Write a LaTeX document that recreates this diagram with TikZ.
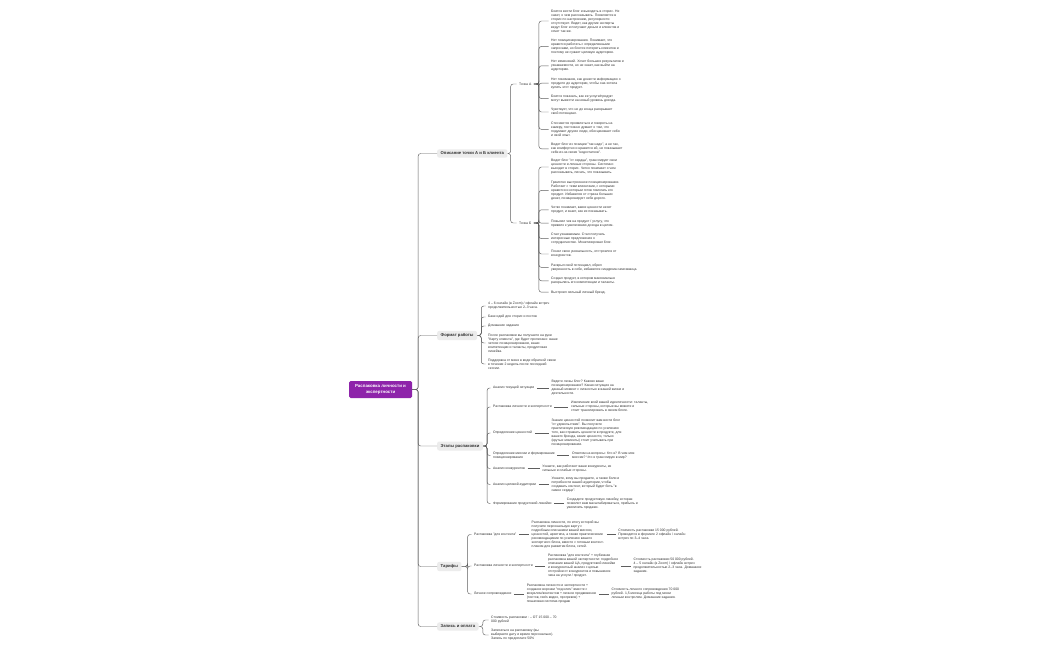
\documentclass[tikz,border=0pt]{standalone}
\usepackage{fontspec}
\setmainfont{Liberation Sans}
\definecolor{txt}{HTML}{333333}
\definecolor{lc}{HTML}{5E5E5E}
\definecolor{bfill}{HTML}{ECECEC}
\definecolor{rootc}{HTML}{8E24AA}
\newcommand\smtxt{\fontsize{3.4}{4}\selectfont}
\newcommand\elb[3]{\draw[conn] (#1.east) -- ++(#3,0) |- (#2.west);}
\newcommand\hl[2]{\draw[conn] (#1.east) -- (#2.west);}
\begin{document}
\begin{tikzpicture}[x=1pt,y=-1pt,
 leaf/.style={anchor=west, font=\smtxt, text=txt, align=left, inner xsep=2.5pt, inner ysep=0.5pt},
 branch/.style={anchor=west, font=\fontsize{4.2}{5}\selectfont\bfseries, text=txt, fill=bfill, rounded corners=2pt, inner xsep=3.5pt, inner ysep=2.6pt},
 rootnode/.style={fill=rootc, text=white, rounded corners=1.5pt, font=\fontsize{4.4}{6}\selectfont\bfseries, align=center, minimum width=63pt, minimum height=17pt, inner sep=1pt},
 conn/.style={draw=lc, line width=0.45pt, rounded corners=2.5pt}]
\fill[white] (0,0) rectangle (1050,650);
\useasboundingbox (0,0) rectangle (1050,650);

% root and main branches
\node[rootnode] (root) at (380.5,389.5) {Распаковка личности и\\экспертности};
\node[branch] (bDesc) at (437,153.5) {Описание точки А и Б клиента};
\node[branch] (bFmt) at (437,335.5) {Формат работы};
\node[branch] (bSt) at (437,446) {Этапы распаковки};
\node[branch] (bTar) at (437,566.5) {Тарифы};
\node[branch] (bRec) at (437,626.5) {Запись и оплата};
\foreach \b in {bDesc,bFmt,bSt,bTar,bRec}{\elb{root}{\b}{6}}

% point A / B
\node[leaf] (pA) at (516.5,84) {Точка А};
\node[leaf] (pB) at (516.5,223) {Точка Б};
\elb{bDesc}{pA}{3}
\elb{bDesc}{pB}{3}

\node[leaf] (a1) at (548.5,21) {Боится вести блог и выходить в сторис. Не\\знает, о чем рассказывать. Появляется в\\сторис по настроению, регулярности\\отсутствует. Видит, как другие эксперты\\ведут блог и получают деньги и клиентов и\\хочет так же.};
\node[leaf] (a2) at (548.5,46.4) {Нет позиционирования. Понимает, что\\нравится работать с определенными\\запросами, но боится потерять клиентов и\\поэтому не сужает целевую аудиторию.};
\node[leaf] (a3) at (548.5,65.8) {Нет изменений. Хочет больших результатов и\\узнаваемости, но не знает, как выйти на\\аудиторию.};
\node[leaf] (a4) at (548.5,83.2) {Нет понимания, как донести информацию о\\продукте до аудитории, чтобы она хотела\\купить этот продукт.};
\node[leaf] (a5) at (548.5,98.6) {Боится показать, как ее услуги/продукт\\могут вывести на новый уровень дохода.};
\node[leaf] (a6) at (548.5,112) {Чувствует, что не до конца раскрывает\\свой потенциал.};
\node[leaf] (a7) at (548.5,129.4) {Стесняется проявляться и говорить на\\камеру, постоянно думает о том, что\\подумают другие люди, обесценивает себя\\и свой опыт.};
\node[leaf] (a8) at (548.5,148.8) {Ведет блог из позиции "так надо", а не так,\\как комфортно и нравится ей, не показывает\\себя из-за своих "недостатков".};
\foreach \n in {a1,a2,a3,a4,a5,a6,a7,a8}{\elb{pA}{\n}{5}}

\node[leaf] (b1) at (548.5,167) {Ведет блог "от сердца", транслирует свои\\ценности и личные стороны. Системно\\выходит в сторис. Четко понимает о чем\\рассказывать, писать, что показывать.};
\node[leaf] (b2) at (548.5,190.4) {Грамотно выстроенное позиционирование.\\Работает с теми клиентами, с которыми\\нравится и которым готов помогать его\\продукт. Избавился от страха больших\\денег, позиционирует себя дорого.};
\node[leaf] (b3) at (548.5,209.8) {Четко понимает, какие ценности несет\\продукт, и знает, как их показывать.};
\node[leaf] (b4) at (548.5,223.2) {Повысил чек на продукт / услугу, что\\привело к увеличению дохода в целом.};
\node[leaf] (b5) at (548.5,238.6) {Стал узнаваемым. Стал получать\\интересные предложения о\\сотрудничестве. Монетизировал блог.};
\node[leaf] (b6) at (548.5,254) {Понял свою уникальность, отстроился от\\конкурентов.};
\node[leaf] (b7) at (548.5,267.4) {Раскрыл свой потенциал, обрел\\уверенность в себе, избавился синдрома самозванца.};
\node[leaf] (b8) at (548.5,280.8) {Создал продукт, в котором максимально\\раскрылись его компетенции и таланты.};
\node[leaf] (b9) at (548.5,292.2) {Выстроил сильный личный бренд.};
\foreach \n in {b1,b2,b3,b4,b5,b6,b7,b8,b9}{\elb{pB}{\n}{5}}

% format
\node[leaf] (f1) at (485.5,306) {4 – 6 онлайн (в Zoom) / офлайн встреч\\продолжительностью 2–3 часа.};
\node[leaf] (f2) at (485.5,317) {Банк идей для сторис и постов};
\node[leaf] (f3) at (485.5,326) {Домашние задания};
\node[leaf] (f4) at (485.5,343) {После распаковки вы получаете на руки\\"Карту клиента", где будет прописано: ваше\\четкое позиционирование, ваши\\компетенции и таланты, продуктовая\\линейка.};
\node[leaf] (f5) at (485.5,364) {Поддержка от меня в виде обратной связи\\в течение 2 недель после последней\\сессии.};
\foreach \n in {f1,f2,f3,f4,f5}{\elb{bFmt}{\n}{4}}

% stages
\node[leaf] (e1) at (490.5,388) {Анализ текущей ситуации};
\node[leaf] (e2) at (490.5,407) {Распаковка личности и экспертности};
\node[leaf] (e3) at (490.5,433) {Определение ценностей};
\node[leaf] (e4) at (490.5,455.5) {Определение миссии и формирование\\позиционирования};
\node[leaf] (e5) at (490.5,468.5) {Анализ конкурентов};
\node[leaf] (e6) at (490.5,484.5) {Анализ целевой аудитории};
\node[leaf] (e7) at (490.5,503.5) {Формирование продуктовой линейки};
\foreach \n in {e1,e2,e3,e4,e5,e6,e7}{\elb{bSt}{\n}{4}}

\node[leaf] (e1b) at ([xshift=12]e1.east) {Ведете ли вы блог? Каково ваше\\позиционирование? Какая ситуация на\\данный момент с личностью в вашей жизни и\\деятельности.};
\node[leaf] (e2b) at ([xshift=14]e2.east) {Извлечение всей вашей идентичности: таланты,\\сильные стороны, которые вы можете и\\стоит транслировать в своем блоге.};
\node[leaf] (e3b) at ([xshift=14]e3.east) {Знание ценностей позволит вам вести блог\\"от удовольствия". Вы получите\\практическую рекомендацию по усилению\\того, как отражать ценности в продукте, для\\вашего бренда, какие ценности, только\\(крутые моменты) стоит учитывать при\\позиционировании.};
\node[leaf] (e4b) at ([xshift=12]e4.east) {Ответим на вопросы: Кто я? В чем моя\\миссия? Что я транслирую в мир?};
\node[leaf] (e5b) at ([xshift=12]e5.east) {Узнаете, как работают ваши конкуренты, их\\сильные и слабые стороны.};
\node[leaf] (e6b) at ([xshift=10]e6.east) {Узнаете, кому вы продаете, а также боли и\\потребности вашей аудитории, чтобы\\создавать контент, который будет бить "в\\самое сердце".};
\node[leaf] (e7b) at ([xshift=10]e7.east) {Создадите продуктовую линейку, которая\\позволит вам масштабироваться, прибыль и\\увеличить продажи.};
\foreach \n in {e1,e2,e3,e4,e5,e6,e7}{\hl{\n}{\n b}}

% tariffs
\node[leaf] (t1) at (471.5,534.5) {Распаковка "для контента"};
\node[leaf] (t2) at (471.5,566) {Распаковка личности и экспертности};
\node[leaf] (t3) at (471.5,594) {Личное сопровождение};
\foreach \n in {t1,t2,t3}{\elb{bTar}{\n}{6}}

\node[leaf] (t1a) at ([xshift=10]t1.east) {Распаковка личности, по итогу которой вы\\получите персональную карту с\\подробным описанием вашей миссии,\\ценностей, архетипа, а также практическими\\рекомендациями по усилению вашего\\экспертного блога, вместе с готовым контент-\\планом для развития блога, сетей.};
\node[leaf] (t1b) at ([xshift=9]t1a.east) {Стоимость распаковки 15 000 рублей.\\Проводится в формате 2 офлайн / онлайн\\встреч по 3–4 часа.};
\node[leaf] (t2a) at ([xshift=10]t2.east) {Распаковка "для контента" + глубинная\\распаковка вашей экспертности: подробное\\описание вашей ЦА, продуктовой линейки\\и конкурентный анализ с целью\\отстройки от конкурентов и повышения\\чека на услуги / продукт.};
\node[leaf] (t2b) at ([xshift=10]t2a.east) {Стоимость распаковки 50 000 рублей.\\4 – 5 онлайн (в Zoom) / офлайн встреч\\продолжительностью 2–3 часа. Домашние\\задания.};
\node[leaf] (t3a) at ([xshift=10]t3.east) {Распаковка личности и экспертности +\\создание воронки "под ключ" вместе с\\визуалом/контентом + личное продвижение\\(постов, reels видео, прогревов) +\\пошаговая система продаж};
\node[leaf] (t3b) at ([xshift=10]t3a.east) {Стоимость личного сопровождения 70 000\\рублей. 1,5 месяца работы под моим\\личным контролем. Домашние задания.};
\hl{t1}{t1a}\hl{t1a}{t1b}
\hl{t2}{t2a}\hl{t2a}{t2b}
\hl{t3}{t3a}\hl{t3a}{t3b}

% record and payment
\node[leaf] (z1) at (488.5,620) {Стоимость распаковки : – ОТ 15 000 – 70\\000 рублей};
\node[leaf] (z2) at (488.5,635) {Записаться на распаковку (вы\\выбираете дату и время персонально).\\Запись по предоплате 50\%};
\elb{bRec}{z1}{4}
\elb{bRec}{z2}{4}
\end{tikzpicture}
\end{document}
